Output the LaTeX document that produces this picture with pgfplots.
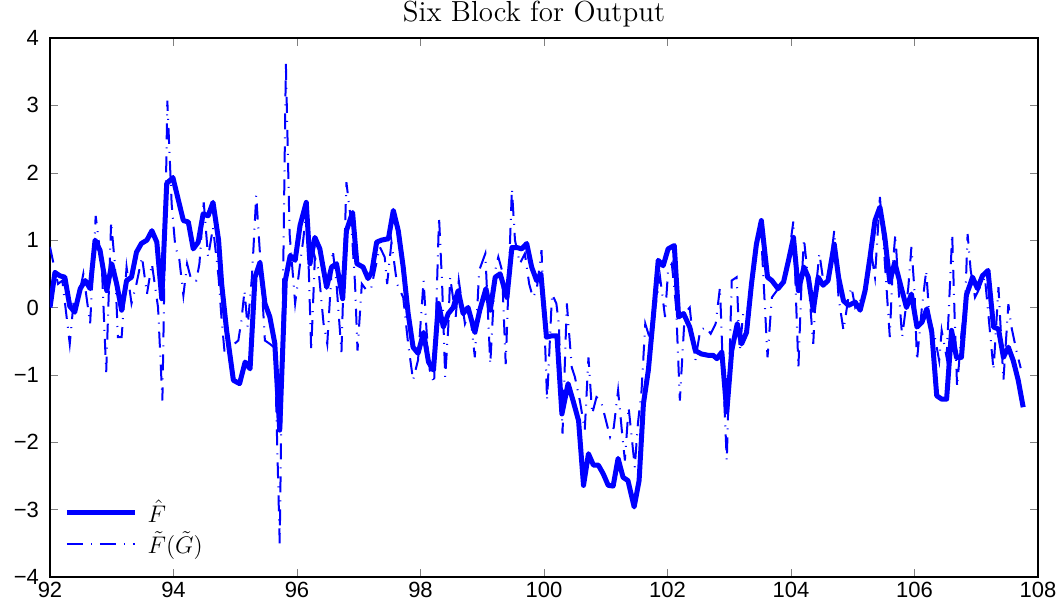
\documentclass[border=0pt]{standalone}
\usepackage{fontspec}
\usepackage{pgfplots}
\pgfplotsset{compat=1.18}
\newfontfamily\ticksans{Liberation Sans}
\definecolor{mblue}{RGB}{0,0,255}

\begin{document}
\begin{tikzpicture}
\begin{axis}[
    scale only axis,
    width=494pt, height=269.5pt,
    xmin=92, xmax=108, ymin=-4, ymax=4,
    xtick={92,94,...,108},
    xticklabels={92,94,96,98,100,102,104,106,108},
    ytick={-4,-3,...,4},
    yticklabels={−4,−3,−2,−1,0,1,2,3,4},
    tick align=inside,
    major tick length=4pt,
    ticklabel style={font=\ticksans\fontsize{11}{13}\selectfont},
    yticklabel style={xshift=-2pt},
    xticklabel style={yshift=1pt},
    axis line style={line width=0.6pt},
    title={Six Block for Output},
    title style={font=\fontsize{14.5}{16}\selectfont, yshift=-4pt, xshift=-5pt},
    legend style={draw=none, fill=none, at={(0.008,0.022)}, anchor=south west,
        font=\fontsize{12}{14}\selectfont, row sep=-1pt,
        /tikz/every odd column/.append style={column sep=3pt}},
    legend cell align=left,
    legend image code/.code={\draw[#1] (0cm,0cm) -- (1.2cm,0cm);},
]

\addplot[mblue, line width=2.5pt, line join=round] coordinates {
(92.00,0.00) (92.08,0.52) (92.16,0.47) (92.24,0.45) (92.32,0.02) (92.40,-0.07)
(92.49,0.28) (92.57,0.40) (92.65,0.28) (92.73,1.00) (92.81,0.85) (92.92,0.25)
(93.00,0.65) (93.08,0.35) (93.16,-0.04) (93.24,0.40) (93.32,0.45) (93.40,0.82)
(93.48,0.95) (93.57,1.00) (93.65,1.14) (93.73,0.97) (93.81,0.13) (93.89,1.84)
(93.99,1.93) (94.08,1.59) (94.16,1.29) (94.24,1.27) (94.32,0.87) (94.40,0.97)
(94.48,1.39) (94.56,1.36) (94.64,1.56) (94.73,1.00) (94.78,0.35) (94.86,-0.34)
(94.97,-1.08) (95.07,-1.13) (95.16,-0.81) (95.24,-0.91) (95.32,0.45) (95.40,0.67)
(95.48,0.06) (95.56,-0.14) (95.64,-0.53) (95.72,-1.82) (95.81,0.40) (95.89,0.77)
(95.97,0.70) (96.05,1.22) (96.15,1.56) (96.21,0.65) (96.29,1.04) (96.37,0.87)
(96.48,0.30) (96.56,0.60) (96.64,0.65) (96.74,0.13) (96.80,1.14) (96.90,1.41)
(96.97,0.65) (97.07,0.60) (97.15,0.43) (97.21,0.52) (97.29,0.97) (97.37,1.00)
(97.48,1.02) (97.56,1.44) (97.64,1.14) (97.72,0.60) (97.80,-0.09) (97.88,-0.59)
(97.96,-0.68) (98.05,-0.37) (98.13,-0.81) (98.21,-0.93) (98.29,0.06) (98.37,-0.29)
(98.45,-0.09) (98.53,0.00) (98.61,0.25) (98.69,-0.09) (98.77,0.00) (98.88,-0.37)
(98.96,-0.04) (99.06,0.28) (99.13,-0.04) (99.21,0.45) (99.29,0.50) (99.40,0.15)
(99.48,0.89) (99.56,0.89) (99.64,0.87) (99.72,0.95) (99.80,0.60) (99.88,0.40)
(99.95,0.50) (100.04,-0.44) (100.13,-0.42) (100.21,-0.42) (100.29,-1.58) (100.39,-1.13)
(100.47,-1.38) (100.56,-1.68) (100.64,-2.64) (100.72,-2.17) (100.80,-2.34) (100.88,-2.34)
(100.96,-2.47) (101.04,-2.64) (101.12,-2.65) (101.20,-2.24) (101.28,-2.52) (101.36,-2.57)
(101.46,-2.96) (101.54,-2.57) (101.61,-1.43) (101.69,-0.93) (101.77,-0.14) (101.85,0.70)
(101.93,0.62) (102.01,0.87) (102.11,0.92) (102.18,-0.14) (102.26,-0.09) (102.36,-0.29)
(102.45,-0.64) (102.55,-0.69) (102.66,-0.71) (102.74,-0.71) (102.80,-0.76) (102.88,-0.66)
(102.96,-1.55) (103.04,-0.64) (103.13,-0.24) (103.20,-0.54) (103.28,-0.37) (103.36,0.35)
(103.44,0.94) (103.52,1.29) (103.62,0.45) (103.69,0.40) (103.79,0.28) (103.88,0.38)
(103.96,0.70) (104.04,1.04) (104.12,0.25) (104.21,0.60) (104.28,0.45) (104.36,-0.04)
(104.44,0.45) (104.52,0.33) (104.60,0.40) (104.70,0.94) (104.77,0.45) (104.85,0.10)
(104.93,0.03) (105.04,0.08) (105.12,-0.04) (105.20,0.25) (105.28,0.75) (105.36,1.29)
(105.44,1.49) (105.52,1.04) (105.60,0.38) (105.68,0.67) (105.77,0.35) (105.87,0.00)
(105.95,0.20) (106.04,-0.29) (106.12,-0.22) (106.20,-0.02) (106.28,-0.37) (106.36,-1.31)
(106.44,-1.36) (106.52,-1.36) (106.60,-0.34) (106.68,-0.74) (106.76,-0.74) (106.84,0.18)
(106.94,0.45) (107.02,0.28) (107.10,0.47) (107.19,0.55) (107.28,-0.29) (107.36,-0.32)
(107.44,-0.74) (107.52,-0.59) (107.60,-0.79) (107.68,-1.08) (107.76,-1.48)
};
\addlegendentry{$\hat{F}$}

\addplot[mblue, line width=1pt, dash pattern=on 8pt off 4pt on 0.5pt off 4pt] coordinates {
(92.00,0.90) (92.08,0.55) (92.13,0.35) (92.20,0.40) (92.32,-0.54) (92.38,0.06)
(92.45,0.10) (92.54,0.50) (92.65,-0.24) (92.74,1.36) (92.84,0.60) (92.91,-0.96)
(92.99,1.27) (93.05,0.65) (93.10,-0.44) (93.16,-0.44) (93.24,0.60) (93.32,0.06)
(93.40,0.35) (93.49,0.75) (93.57,0.20) (93.65,0.65) (93.75,0.00) (93.82,-1.38)
(93.90,3.07) (93.97,1.54) (94.03,0.89) (94.09,0.75) (94.16,0.18) (94.22,0.65)
(94.29,0.40) (94.37,0.40) (94.42,0.65) (94.49,1.56) (94.56,0.75) (94.64,1.19)
(94.73,0.45) (94.78,-0.19) (94.83,-0.69) (94.92,-0.59) (95.05,-0.49) (95.10,-0.19)
(95.15,0.25) (95.20,-0.29) (95.27,0.45) (95.34,1.66) (95.40,0.80) (95.48,-0.49)
(95.56,-0.54) (95.64,-0.60) (95.72,-3.50) (95.82,3.62) (95.88,1.10) (95.97,0.06)
(96.05,0.65) (96.10,1.00) (96.16,1.49) (96.23,-0.64) (96.29,0.75) (96.35,0.55)
(96.43,-0.24) (96.49,-0.54) (96.58,0.85) (96.64,0.35) (96.72,-0.66) (96.80,1.86)
(96.88,1.24) (96.94,0.35) (96.98,-0.64) (97.05,0.35) (97.13,0.25) (97.20,0.28)
(97.34,0.90) (97.42,0.75) (97.46,0.35) (97.53,0.97) (97.62,0.35) (97.72,0.15)
(97.80,-0.54) (97.88,-1.08) (97.96,-0.78) (98.05,0.40) (98.10,-0.37) (98.15,-0.93)
(98.22,-1.13) (98.30,1.34) (98.35,0.35) (98.40,-1.03) (98.45,-0.29) (98.48,0.45)
(98.57,-0.14) (98.62,0.40) (98.72,-0.24) (98.80,-0.04) (98.88,-0.74) (98.95,0.55)
(99.05,0.80) (99.13,-0.84) (99.21,0.55) (99.26,0.75) (99.32,0.55) (99.38,-0.84)
(99.48,1.76) (99.53,1.00) (99.61,0.65) (99.69,0.80) (99.76,0.35) (99.82,0.15)
(99.88,0.25) (99.96,0.85) (100.03,-0.84) (100.05,-1.38) (100.13,0.20) (100.20,0.06)
(100.24,-0.24) (100.30,-1.87) (100.37,0.06) (100.42,-0.54) (100.45,-0.89) (100.50,-1.03)
(100.58,-1.38) (100.66,-1.82) (100.72,-0.74) (100.78,-1.58) (100.85,-1.33) (100.92,-1.38)
(100.99,-1.63) (101.07,-1.92) (101.13,-1.78) (101.20,-1.23) (101.26,-1.82) (101.31,-2.27)
(101.37,-1.48) (101.42,-1.92) (101.47,-2.37) (101.52,-1.73) (101.58,-1.23) (101.64,-0.24)
(101.69,-0.39) (101.77,-0.19) (101.88,0.45) (101.96,-0.14) (102.01,0.55) (102.07,0.65)
(102.14,0.00) (102.20,-1.38) (102.28,-0.09) (102.36,0.00) (102.45,-0.79) (102.53,-0.34)
(102.62,-0.29) (102.70,-0.39) (102.78,-0.24) (102.85,0.30) (102.90,-0.98) (102.96,-2.27)
(103.04,0.40) (103.12,0.45) (103.17,-0.64) (103.23,-0.04) (103.31,0.00) (103.38,0.40)
(103.44,0.85) (103.53,0.85) (103.62,-0.74) (103.69,0.15) (103.77,0.25) (103.86,0.35)
(103.96,0.75) (104.04,1.29) (104.08,0.15) (104.12,-0.89) (104.17,0.35) (104.21,1.02)
(104.28,0.40) (104.36,-0.54) (104.41,0.35) (104.46,0.80) (104.53,0.35) (104.60,0.35)
(104.70,1.14) (104.77,0.15) (104.85,-0.34) (104.93,0.15) (104.98,0.30) (105.04,0.00)
(105.12,0.10) (105.22,0.30) (105.31,0.75) (105.36,0.45) (105.44,1.64) (105.50,0.94)
(105.55,0.25) (105.60,-0.44) (105.65,0.65) (105.69,1.09) (105.74,0.30) (105.80,-0.44)
(105.86,0.00) (105.90,0.30) (105.95,0.90) (106.00,0.25) (106.04,-0.79) (106.12,0.00)
(106.19,0.55) (106.24,-0.14) (106.33,-0.44) (106.40,-0.79) (106.44,-0.34) (106.52,-0.74)
(106.57,0.25) (106.61,1.09) (106.65,-0.14) (106.69,-1.18) (106.76,-0.39) (106.82,0.06)
(106.86,1.09) (106.91,0.55) (106.98,0.15) (107.06,0.30) (107.14,0.45) (107.28,-0.93)
(107.36,0.30) (107.44,-1.08) (107.52,0.05) (107.57,-0.29) (107.65,-0.64) (107.72,-0.90)
};
\addlegendentry{$\tilde{F}(\tilde{G})$}

\end{axis}
\pgfresetboundingbox
\path ([shift={(-25pt,-16pt)}]current axis.south west) rectangle ([shift={(12pt,19pt)}]current axis.north east);
\end{tikzpicture}
\end{document}
